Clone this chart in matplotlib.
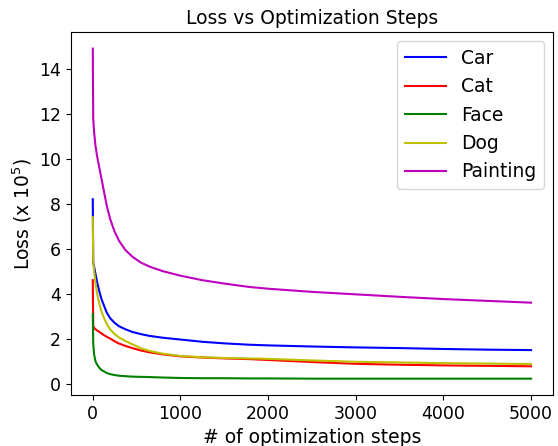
import matplotlib
matplotlib.use("Agg")
import matplotlib.pyplot as plt

steps = [0, 5, 15, 30, 50, 75, 100, 130, 160, 200, 250, 300, 370, 450, 550, 650, 800,
         1000, 1250, 1500, 1780, 2000, 2500, 3000, 3500, 4000, 4500, 5000]

car = [8.2, 5.4, 5.2, 4.9, 4.5, 4.1, 3.75, 3.45, 3.15, 2.9, 2.7, 2.55, 2.42, 2.3, 2.2, 2.12, 2.04,
       1.96, 1.86, 1.79, 1.73, 1.70, 1.65, 1.61, 1.58, 1.54, 1.51, 1.49]
cat = [4.6, 2.55, 2.48, 2.42, 2.36, 2.3, 2.23, 2.15, 2.08, 2.0, 1.88, 1.78, 1.68, 1.58, 1.47, 1.39, 1.3,
       1.21, 1.16, 1.12, 1.09, 1.05, 0.96, 0.88, 0.84, 0.81, 0.79, 0.77]
face = [3.1, 1.8, 1.3, 1.0, 0.84, 0.7, 0.6, 0.54, 0.47, 0.42, 0.38, 0.35, 0.33, 0.31, 0.3, 0.29, 0.27,
        0.25, 0.24, 0.24, 0.23, 0.23, 0.22, 0.22, 0.22, 0.22, 0.22, 0.22]
dog = [7.4, 5.5, 5.0, 4.5, 4.0, 3.55, 3.2, 2.9, 2.65, 2.4, 2.2, 2.05, 1.9, 1.75, 1.57, 1.45, 1.33,
       1.23, 1.17, 1.14, 1.12, 1.10, 1.03, 0.97, 0.94, 0.91, 0.89, 0.87]
painting = [14.9, 11.8, 11.2, 10.6, 10.1, 9.6, 9.1, 8.5, 7.9, 7.3, 6.75, 6.35, 5.95, 5.65, 5.38, 5.2, 5.0,
            4.8, 4.6, 4.45, 4.3, 4.22, 4.08, 3.97, 3.86, 3.76, 3.68, 3.6]

labels = ["Car", "Cat", "Face", "Dog", "Painting"]
colors = ["b", "r", "g", "y", "m"]

plt.rcParams["font.size"] = 12.5

fig = plt.figure(figsize=(5.58, 4.46), dpi=100)
ax = fig.add_subplot(111)

for series, lab, col in zip([car, cat, face, dog, painting], labels, colors):
    ax.plot(steps, series, color=col, label=lab, linewidth=1.5)

ax.set_xticks([0, 1000, 2000, 3000, 4000, 5000])
ax.set_yticks([0, 2, 4, 6, 8, 10, 12, 14])
ax.set_title("Loss vs Optimization Steps", fontsize=13.5)
ax.set_xlabel("# of optimization steps", fontsize=13.5)
ax.set_ylabel("Loss (x $10^5$)", fontsize=13.5)
ax.legend(loc="upper right", fontsize=13.5, handlelength=2.2)

plt.subplots_adjust(left=0.127, right=0.991, top=0.928, bottom=0.114)
plt.savefig("out.png", dpi=100)
plt.close()
